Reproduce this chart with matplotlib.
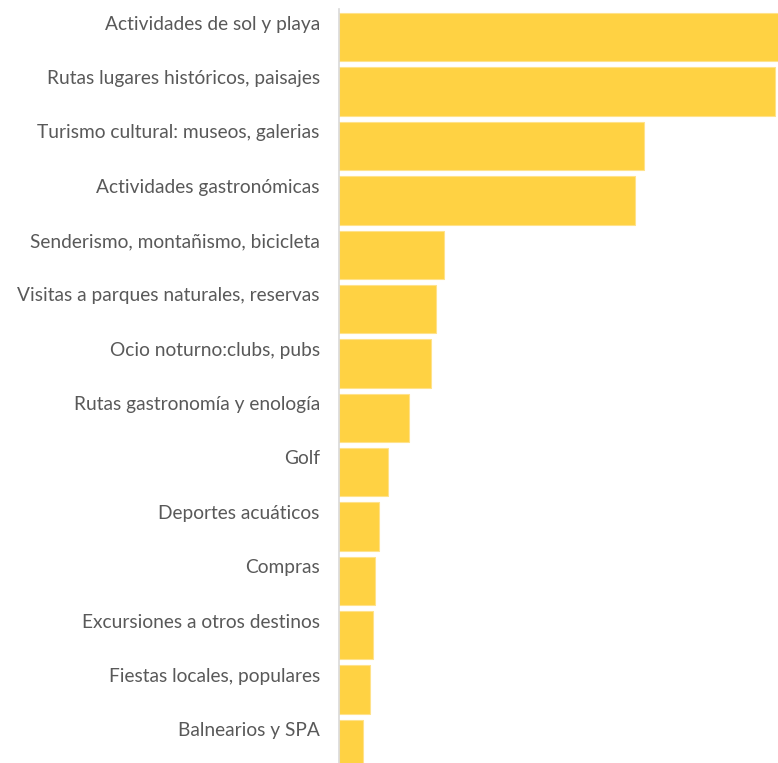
import matplotlib
matplotlib.use("Agg")
import matplotlib.pyplot as plt

categories = [
    "Actividades de sol y playa",
    "Rutas lugares históricos, paisajes",
    "Turismo cultural: museos, galerias",
    "Actividades gastronómicas",
    "Senderismo, montañismo, bicicleta",
    "Visitas a parques naturales, reservas",
    "Ocio noturno:clubs, pubs",
    "Rutas gastronomía y enología",
    "Golf",
    "Deportes acuáticos",
    "Compras",
    "Excursiones a otros destinos",
    "Fiestas locales, populares",
    "Balnearios y SPA",
]
values = [60.4, 59.7, 41.7, 40.5, 14.3, 13.2, 12.6, 9.5, 6.7, 5.5, 4.9, 4.6, 4.2, 3.2]

W, H = 778, 763
fig = plt.figure(figsize=(W / 100, H / 100), dpi=100)
left_px, right_px, top_px, bottom_px = 339.3, 778, 9, 763
ax = fig.add_axes([left_px / W, (H - bottom_px) / H, (right_px - left_px) / W, (bottom_px - top_px) / H])

pos = list(range(len(categories)))
ax.barh(pos, values, height=0.89, color="#FFD243", edgecolor="#FFE28A", linewidth=0.8)
ax.set_xlim(0, 60.1)
ax.set_ylim(13.35, -0.52)

for s in ["top", "right", "bottom"]:
    ax.spines[s].set_visible(False)
ax.spines["left"].set_color("#D9D9D9")
ax.spines["left"].set_linewidth(1.2)
ax.set_xticks([])
ax.set_yticks([p - 0.27 for p in pos])
ax.set_yticklabels(categories, fontfamily="Lato", fontsize=13.8, color="#595959")
ax.tick_params(axis="y", length=0, pad=14)

fig.savefig("out.png", dpi=100)
